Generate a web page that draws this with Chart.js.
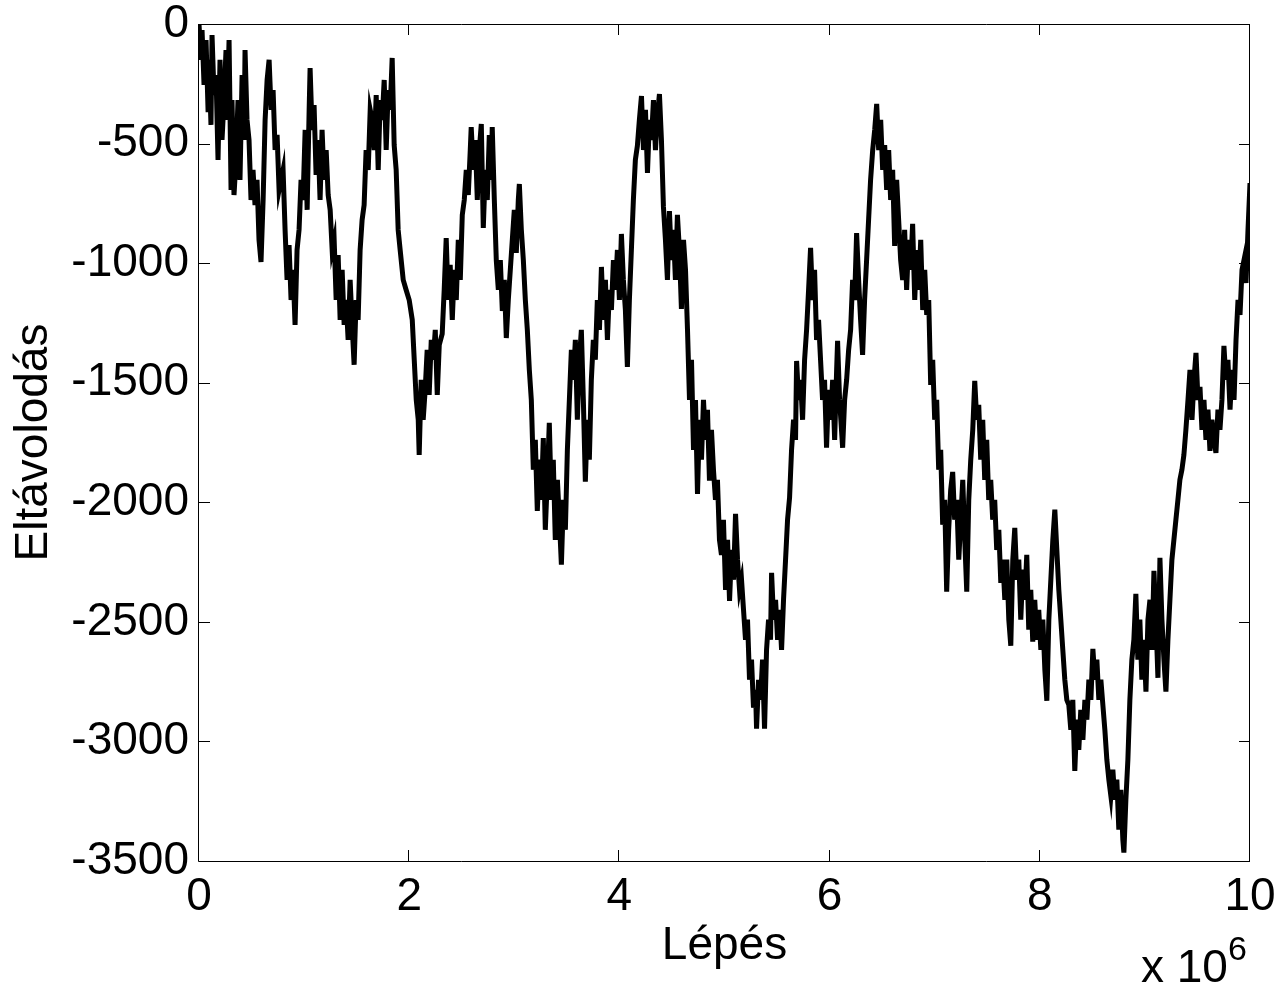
<!DOCTYPE html>
<html>
<head>
<meta charset="utf-8">
<script src="https://cdn.jsdelivr.net/npm/chart.js@4.4.1/dist/chart.umd.min.js"></script>
<style>
  html, body { margin: 0; padding: 0; background: #fff; }
</style>
</head>
<body>
<canvas id="chart_walk" width="1280" height="987"></canvas>
<script>
// step number, in units of 10^6 (axis multiplier "x 10^6")
var steps = [
  0, 0.019, 0.029, 0.048, 0.067, 0.086, 0.095, 0.114, 0.124, 0.143,
  0.162, 0.181, 0.200, 0.219, 0.238, 0.257, 0.267, 0.286, 0.305, 0.314,
  0.333, 0.352, 0.371, 0.390, 0.410, 0.429, 0.438, 0.457, 0.476, 0.495,
  0.514, 0.533, 0.552, 0.571, 0.590, 0.610, 0.629, 0.648, 0.667, 0.686,
  0.705, 0.724, 0.743, 0.762, 0.781, 0.800, 0.819, 0.838, 0.857, 0.876,
  0.895, 0.914, 0.933, 0.952, 0.971, 0.990, 1.010, 1.029, 1.048, 1.057,
  1.076, 1.095, 1.114, 1.133, 1.152, 1.171, 1.190, 1.210, 1.229, 1.248,
  1.267, 1.286, 1.305, 1.324, 1.343, 1.362, 1.381, 1.400, 1.419, 1.438,
  1.457, 1.476, 1.495, 1.514, 1.533, 1.552, 1.571, 1.590, 1.610, 1.629,
  1.648, 1.667, 1.686, 1.705, 1.724, 1.743, 1.762, 1.781, 1.800, 1.819,
  1.838, 1.857, 1.876, 1.895, 1.914, 1.943, 1.971, 2.000, 2.029, 2.048,
  2.067, 2.086, 2.095, 2.114, 2.133, 2.152, 2.171, 2.190, 2.210, 2.229,
  2.248, 2.267, 2.286, 2.314, 2.333, 2.352, 2.371, 2.390, 2.410, 2.429,
  2.448, 2.467, 2.486, 2.505, 2.524, 2.543, 2.562, 2.581, 2.590, 2.610,
  2.629, 2.648, 2.667, 2.686, 2.705, 2.724, 2.743, 2.762, 2.781, 2.790,
  2.810, 2.829, 2.848, 2.867, 2.886, 2.905, 2.924, 2.943, 2.962, 2.981,
  3.000, 3.019, 3.038, 3.048, 3.067, 3.086, 3.105, 3.124, 3.143, 3.162,
  3.181, 3.200, 3.219, 3.238, 3.257, 3.276, 3.295, 3.314, 3.333, 3.352,
  3.371, 3.390, 3.410, 3.429, 3.448, 3.467, 3.486, 3.505, 3.524, 3.543,
  3.562, 3.581, 3.600, 3.619, 3.638, 3.657, 3.676, 3.695, 3.714, 3.733,
  3.752, 3.771, 3.790, 3.810, 3.829, 3.848, 3.867, 3.886, 3.905, 3.924,
  3.943, 3.962, 3.981, 4.000, 4.019, 4.038, 4.057, 4.076, 4.095, 4.114,
  4.133, 4.152, 4.171, 4.190, 4.210, 4.229, 4.248, 4.267, 4.286, 4.305,
  4.324, 4.343, 4.362, 4.381, 4.400, 4.419, 4.438, 4.457, 4.476, 4.495,
  4.514, 4.533, 4.552, 4.571, 4.590, 4.610, 4.629, 4.648, 4.667, 4.686,
  4.705, 4.724, 4.743, 4.762, 4.781, 4.800, 4.819, 4.838, 4.857, 4.876,
  4.895, 4.914, 4.933, 4.952, 4.971, 4.990, 5.010, 5.029, 5.048, 5.067,
  5.086, 5.105, 5.124, 5.143, 5.162, 5.181, 5.200, 5.219, 5.238, 5.257,
  5.276, 5.295, 5.305, 5.324, 5.343, 5.362, 5.381, 5.400, 5.419, 5.438,
  5.448, 5.467, 5.486, 5.505, 5.524, 5.543, 5.562, 5.581, 5.600, 5.619,
  5.638, 5.657, 5.676, 5.686, 5.705, 5.724, 5.743, 5.762, 5.781, 5.800,
  5.819, 5.838, 5.857, 5.876, 5.895, 5.914, 5.933, 5.952, 5.971, 5.990,
  6.010, 6.029, 6.048, 6.067, 6.076, 6.095, 6.124, 6.143, 6.162, 6.181,
  6.200, 6.219, 6.238, 6.257, 6.276, 6.295, 6.314, 6.333, 6.352, 6.371,
  6.390, 6.410, 6.429, 6.448, 6.467, 6.486, 6.505, 6.524, 6.543, 6.562,
  6.581, 6.600, 6.619, 6.638, 6.657, 6.676, 6.695, 6.714, 6.733, 6.752,
  6.771, 6.790, 6.810, 6.829, 6.848, 6.867, 6.886, 6.905, 6.924, 6.943,
  6.962, 6.981, 7.000, 7.019, 7.038, 7.057, 7.076, 7.095, 7.114, 7.133,
  7.152, 7.171, 7.190, 7.210, 7.229, 7.248, 7.267, 7.286, 7.305, 7.324,
  7.343, 7.362, 7.381, 7.400, 7.419, 7.438, 7.457, 7.476, 7.495, 7.514,
  7.533, 7.552, 7.571, 7.590, 7.610, 7.629, 7.648, 7.667, 7.686, 7.705,
  7.724, 7.743, 7.762, 7.781, 7.800, 7.819, 7.838, 7.857, 7.876, 7.895,
  7.914, 7.933, 7.952, 7.971, 7.990, 8.010, 8.029, 8.048, 8.067, 8.086,
  8.105, 8.124, 8.143, 8.162, 8.181, 8.200, 8.219, 8.238, 8.257, 8.276,
  8.295, 8.314, 8.333, 8.352, 8.371, 8.390, 8.410, 8.429, 8.448, 8.467,
  8.486, 8.505, 8.524, 8.543, 8.562, 8.581, 8.600, 8.619, 8.638, 8.657,
  8.676, 8.695, 8.714, 8.733, 8.752, 8.771, 8.790, 8.800, 8.819, 8.838,
  8.857, 8.876, 8.895, 8.914, 8.933, 8.952, 8.971, 8.990, 9.010, 9.029,
  9.048, 9.067, 9.086, 9.105, 9.124, 9.143, 9.162, 9.181, 9.200, 9.219,
  9.238, 9.257, 9.276, 9.295, 9.314, 9.333, 9.352, 9.371, 9.390, 9.410,
  9.429, 9.448, 9.467, 9.486, 9.505, 9.524, 9.543, 9.562, 9.581, 9.600,
  9.619, 9.638, 9.657, 9.676, 9.695, 9.714, 9.733, 9.752, 9.771, 9.790,
  9.810, 9.829, 9.848, 9.867, 9.886, 9.905, 9.924, 9.943, 9.962, 9.981, 10.000
];

// deviation (Eltávolodás)
var deviation = [
  0, -150, -25, -255, -67, -359, -150, -422, -46, -297,
  -213, -568, -150, -485, -318, -109, -401, -67, -694, -318,
  -715, -568, -318, -652, -213, -485, -109, -401, -485, -736,
  -610, -757, -652, -903, -995, -736, -401, -234, -150, -359,
  -276, -527, -464, -694, -652, -610, -861, -1070, -924, -1154,
  -1028, -1258, -945, -861, -652, -736, -443, -777, -359, -184,
  -443, -339, -631, -485, -736, -443, -652, -527, -715, -777,
  -945, -903, -1154, -966, -1237, -1028, -1258, -1154, -1321, -1070,
  -1258, -1425, -1154, -1237, -945, -819, -757, -527, -610, -359,
  -401, -527, -297, -610, -318, -401, -234, -527, -276, -359,
  -142, -506, -610, -861, -945, -1070, -1112, -1154, -1237, -1404,
  -1572, -1655, -1802, -1488, -1655, -1530, -1363, -1551, -1321, -1404,
  -1279, -1551, -1342, -1296, -1112, -895, -1154, -1007, -1237, -1028,
  -1154, -903, -1070, -798, -736, -610, -715, -527, -431, -610,
  -485, -736, -527, -418, -853, -610, -736, -464, -652, -431,
  -736, -991, -1112, -987, -1200, -1070, -1313, -1154, -1028, -903,
  -777, -957, -736, -669, -861, -987, -1154, -1279, -1446, -1572,
  -1864, -1739, -2036, -1822, -1990, -1731, -2115, -1906, -1668, -1990,
  -1822, -2157, -1906, -2073, -2261, -1990, -2115, -1781, -1572, -1363,
  -1488, -1321, -1655, -1404, -1279, -1572, -1914, -1655, -1822, -1488,
  -1321, -1404, -1154, -1279, -1016, -1237, -1070, -1321, -1112, -1196,
  -987, -1112, -945, -1154, -878, -1070, -1196, -1434, -1154, -945,
  -736, -568, -510, -401, -301, -527, -359, -623, -401, -485,
  -318, -527, -380, -293, -485, -765, -903, -1070, -782, -987,
  -861, -1070, -798, -945, -1191, -903, -1028, -1279, -1572, -1404,
  -1781, -1572, -1965, -1655, -1822, -1572, -1739, -1613, -1910, -1697,
  -1864, -1990, -1906, -2157, -2220, -2073, -2366, -2157, -2412, -2199,
  -2324, -2048, -2240, -2366, -2324, -2450, -2575, -2491, -2742, -2658,
  -2859, -2784, -2947, -2742, -2826, -2658, -2947, -2617, -2491, -2575,
  -2295, -2491, -2408, -2575, -2450, -2617, -2404, -2240, -2073, -1981,
  -1781, -1655, -1739, -1409, -1572, -1488, -1655, -1404, -1279, -1112,
  -936, -1154, -1028, -1321, -1237, -1404, -1572, -1488, -1772, -1530,
  -1655, -1488, -1739, -1446, -1325, -1572, -1772, -1572, -1488, -1363,
  -1279, -1070, -1154, -874, -1070, -1237, -1384, -1154, -987, -819,
  -652, -527, -443, -334, -527, -401, -610, -506, -694, -527,
  -736, -610, -928, -652, -819, -987, -1070, -861, -1112, -903,
  -1028, -836, -1154, -945, -1112, -903, -1196, -1028, -1216, -1154,
  -1509, -1404, -1655, -1572, -1864, -1781, -2094, -1990, -2374, -2115,
  -1948, -1873, -2073, -1990, -2240, -2073, -1906, -2157, -2374, -1990,
  -1822, -1697, -1492, -1655, -1593, -1822, -1655, -1906, -1739, -1990,
  -1906, -2073, -1990, -2199, -2115, -2337, -2240, -2408, -2240, -2491,
  -2600, -2240, -2107, -2324, -2240, -2491, -2282, -2408, -2220, -2533,
  -2366, -2583, -2408, -2575, -2450, -2617, -2491, -2700, -2830, -2491,
  -2324, -2157, -2031, -2199, -2366, -2491, -2617, -2742, -2826, -2847,
  -2951, -2826, -3123, -2909, -3035, -2868, -2993, -2826, -2909, -2742,
  -2826, -2613, -2742, -2658, -2826, -2742, -2847, -2951, -3077, -3160,
  -3227, -3118, -3244, -3160, -3369, -3202, -3411, -3465, -3244, -3077,
  -2826, -2658, -2575, -2383, -2658, -2491, -2742, -2575, -2792, -2491,
  -2408, -2617, -2287, -2491, -2734, -2232, -2491, -2658, -2792, -2575,
  -2408, -2240, -2157, -2073, -1990, -1906, -1864, -1802, -1697, -1572,
  -1446, -1655, -1488, -1375, -1572, -1517, -1697, -1572, -1739, -1613,
  -1785, -1655, -1739, -1793, -1613, -1697, -1572, -1346, -1488, -1404,
  -1613, -1446, -1572, -1321, -1154, -1216, -1028, -987, -1083, -861, -665
];

var xTicks = [0, 2, 4, 6, 8, 10];
var yTicks = [0, -500, -1000, -1500, -2000, -2500, -3000, -3500];

console.log(steps.length, deviation.length);

function buildPoints() {
  var pts = [];
  for (var i = 0; i < steps.length; i++) {
    pts.push({ x: steps[i], y: deviation[i] });
  }
  return pts;
}

// MATLAB style frame: box round the axes, ticks pointing inwards, x 10^6 note
var matlabBox = {
  id: 'matlabBox',
  afterDraw: function (chart) {
    var ctx = chart.ctx;
    var a = chart.chartArea;
    var sx = chart.scales.x, sy = chart.scales.y;
    var tl = 11;
    ctx.save();
    ctx.strokeStyle = '#000';
    ctx.lineWidth = 1;
    ctx.beginPath();
    ctx.rect(Math.round(a.left) - 0.5, Math.round(a.top) + 0.5,
             Math.round(a.right - a.left), Math.round(a.bottom - a.top));
    for (var i = 0; i < xTicks.length; i++) {
      var px = Math.round(sx.getPixelForValue(xTicks[i])) - 0.5;
      ctx.moveTo(px, a.bottom); ctx.lineTo(px, a.bottom - tl);
      ctx.moveTo(px, a.top); ctx.lineTo(px, a.top + tl);
    }
    for (var j = 0; j < yTicks.length; j++) {
      var py = Math.round(sy.getPixelForValue(yTicks[j])) + 0.5;
      ctx.moveTo(a.left, py); ctx.lineTo(a.left + tl, py);
      ctx.moveTo(a.right, py); ctx.lineTo(a.right - tl, py);
    }
    ctx.stroke();

    ctx.fillStyle = '#000';
    ctx.textBaseline = 'alphabetic';
    ctx.textAlign = 'left';
    ctx.font = '46px "Liberation Sans", Arial, sans-serif';
    ctx.fillText('x 10', 1141, 982);
    ctx.font = '34px "Liberation Sans", Arial, sans-serif';
    ctx.fillText('6', 1228, 960);
    ctx.restore();
  }
};

Chart.defaults.font.family = '"Liberation Sans", Arial, sans-serif';
Chart.defaults.color = '#000';

new Chart(document.getElementById('chart_walk'), {
  type: 'line',
  data: {
    datasets: [{
      label: 'Eltávolodás',
      data: buildPoints(),
      borderColor: '#000',
      borderWidth: 5,
      pointRadius: 0,
      tension: 0,
      fill: false
    }]
  },
  options: {
    responsive: false,
    animation: false,
    layout: { padding: { left: 0, right: 30, top: 24, bottom: 0 } },
    plugins: {
      legend: { display: false },
      tooltip: { enabled: false }
    },
    scales: {
      x: {
        type: 'linear',
        min: 0,
        max: 10,
        grid: { display: false, drawTicks: false },
        border: { display: false },
        ticks: {
          stepSize: 2,
          padding: 13,
          maxRotation: 0,
          font: { size: 46, lineHeight: 1 },
          callback: function (v) { return String(v); }
        },
        title: {
          display: true,
          text: 'Lépés',
          font: { size: 46, lineHeight: 1 },
          padding: { top: 0, bottom: 18 }
        },
        afterFit: function (scale) {
          scale.height = 126;
          scale.paddingLeft = 0;
          scale.paddingRight = 0;
        }
      },
      y: {
        type: 'linear',
        min: -3500,
        max: 0,
        grid: { display: false, drawTicks: false },
        border: { display: false },
        ticks: {
          stepSize: 500,
          padding: 10,
          font: { size: 46, lineHeight: 1 },
          callback: function (v) { return String(v); }
        },
        title: {
          display: true,
          text: 'Eltávolodás',
          font: { size: 46, lineHeight: 1 },
          padding: { top: 11, bottom: 0 }
        },
        afterFit: function (scale) {
          scale.width = 199;
          scale.paddingTop = 0;
          scale.paddingBottom = 0;
        }
      }
    }
  },
  plugins: [matlabBox]
});
</script>
</body>
</html>
